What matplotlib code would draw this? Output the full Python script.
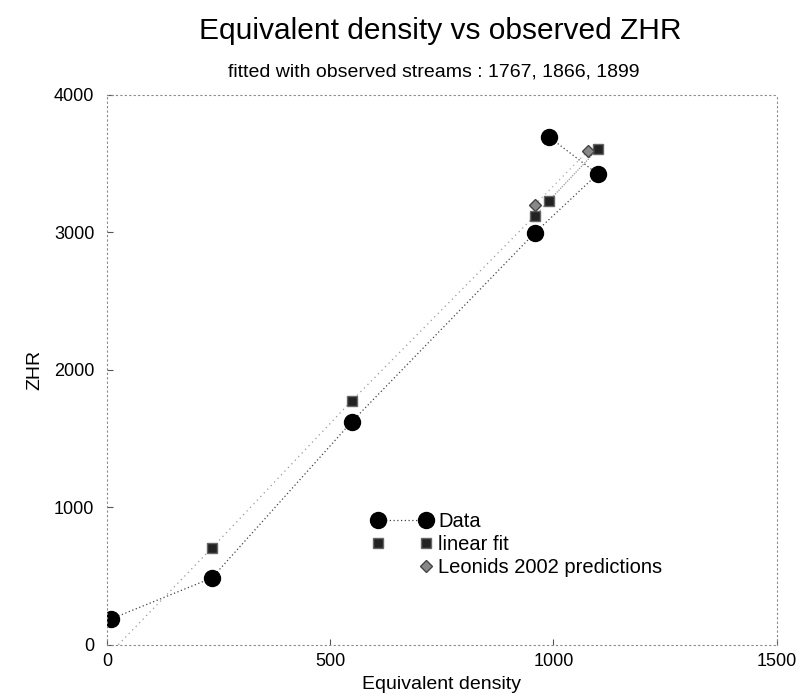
import matplotlib
matplotlib.use("Agg")
import matplotlib.pyplot as plt
from matplotlib.lines import Line2D
from matplotlib.legend_handler import HandlerLine2D

plt.rcParams['font.family'] = ['Liberation Sans', 'DejaVu Sans']

# Data series (order as drawn)
data_x = [10, 235, 548, 958, 1099, 990]
data_y = [190, 487, 1622, 2996, 3425, 3695]

fit_x = [10, 235, 548, 958, 1099, 990]
fit_y = [-50, 705, 1775, 3120, 3605, 3230]

pred_x = [958, 1078]
pred_y = [3200, 3595]

xticks = [0, 500, 1000, 1500]
yticks = [0, 1000, 2000, 3000, 4000]


class RightMarkerOnly(HandlerLine2D):
    def create_artists(self, *args, **kwargs):
        arts = super().create_artists(*args, **kwargs)
        for a in arts:
            if isinstance(a, Line2D):
                a.set_markevery([len(a.get_xdata()) - 1])
        return arts


fig = plt.figure(figsize=(8.04, 6.98), dpi=100)
ax = fig.add_axes([0.133, 0.076, 0.833, 0.788])

ax.plot(data_x, data_y, linestyle=(0, (1, 2)), color='#444444', linewidth=0.9,
        marker='o', markersize=11.5, markerfacecolor='black', markeredgecolor='black')
ax.plot(fit_x, fit_y, linestyle=(0, (1, 3)), color='#999999', linewidth=0.9,
        marker='s', markersize=7.5, markerfacecolor='#222222', markeredgecolor='#666666')
ax.plot(pred_x, pred_y, linestyle=(0, (1, 3)), color='#aaaaaa', linewidth=0.9,
        marker='D', markersize=6, markerfacecolor='#888888', markeredgecolor='#444444')

ax.set_xlim(0, 1500)
ax.set_ylim(0, 4000)
ax.set_xticks(xticks)
ax.set_yticks(yticks)
ax.tick_params(direction='in', length=4, color='#555555', labelsize=13)
ax.tick_params(axis='y', pad=9)
ax.tick_params(axis='x', pad=6)

for s in ax.spines.values():
    s.set_linestyle((0, (1, 3)))
    s.set_color('#888888')
    s.set_linewidth(0.8)

ax.set_xlabel('Equivalent density', fontsize=14, labelpad=4)
ax.set_ylabel('ZHR', fontsize=14, labelpad=8)
fig.text(0.548, 0.956, 'Equivalent density vs observed ZHR', ha='center', va='center', fontsize=21.5)
fig.text(0.540, 0.897, 'fitted with observed streams : 1767, 1866, 1899', ha='center', va='center', fontsize=14)

h_data = Line2D([], [], linestyle=(0, (1, 2)), color='#444444', linewidth=0.9,
                marker='o', markersize=11.5, markerfacecolor='black', markeredgecolor='black')
h_fit = Line2D([], [], linestyle='none',
               marker='s', markersize=7.5, markerfacecolor='#222222', markeredgecolor='#666666')
h_pred = Line2D([], [], linestyle='none',
                marker='D', markersize=6, markerfacecolor='#888888', markeredgecolor='#444444')

leg = fig.legend([h_data, h_fit, h_pred], ['Data', 'linear fit', 'Leonids 2002 predictions'],
                 loc='upper left', bbox_to_anchor=(0.4627, 0.266), frameon=False,
                 fontsize=14.5, numpoints=2, handlelength=3.0, handletextpad=0.3,
                 labelspacing=0.2, borderpad=0, borderaxespad=0,
                 handler_map={h_pred: RightMarkerOnly()})

fig.savefig('out.png', dpi=100)
